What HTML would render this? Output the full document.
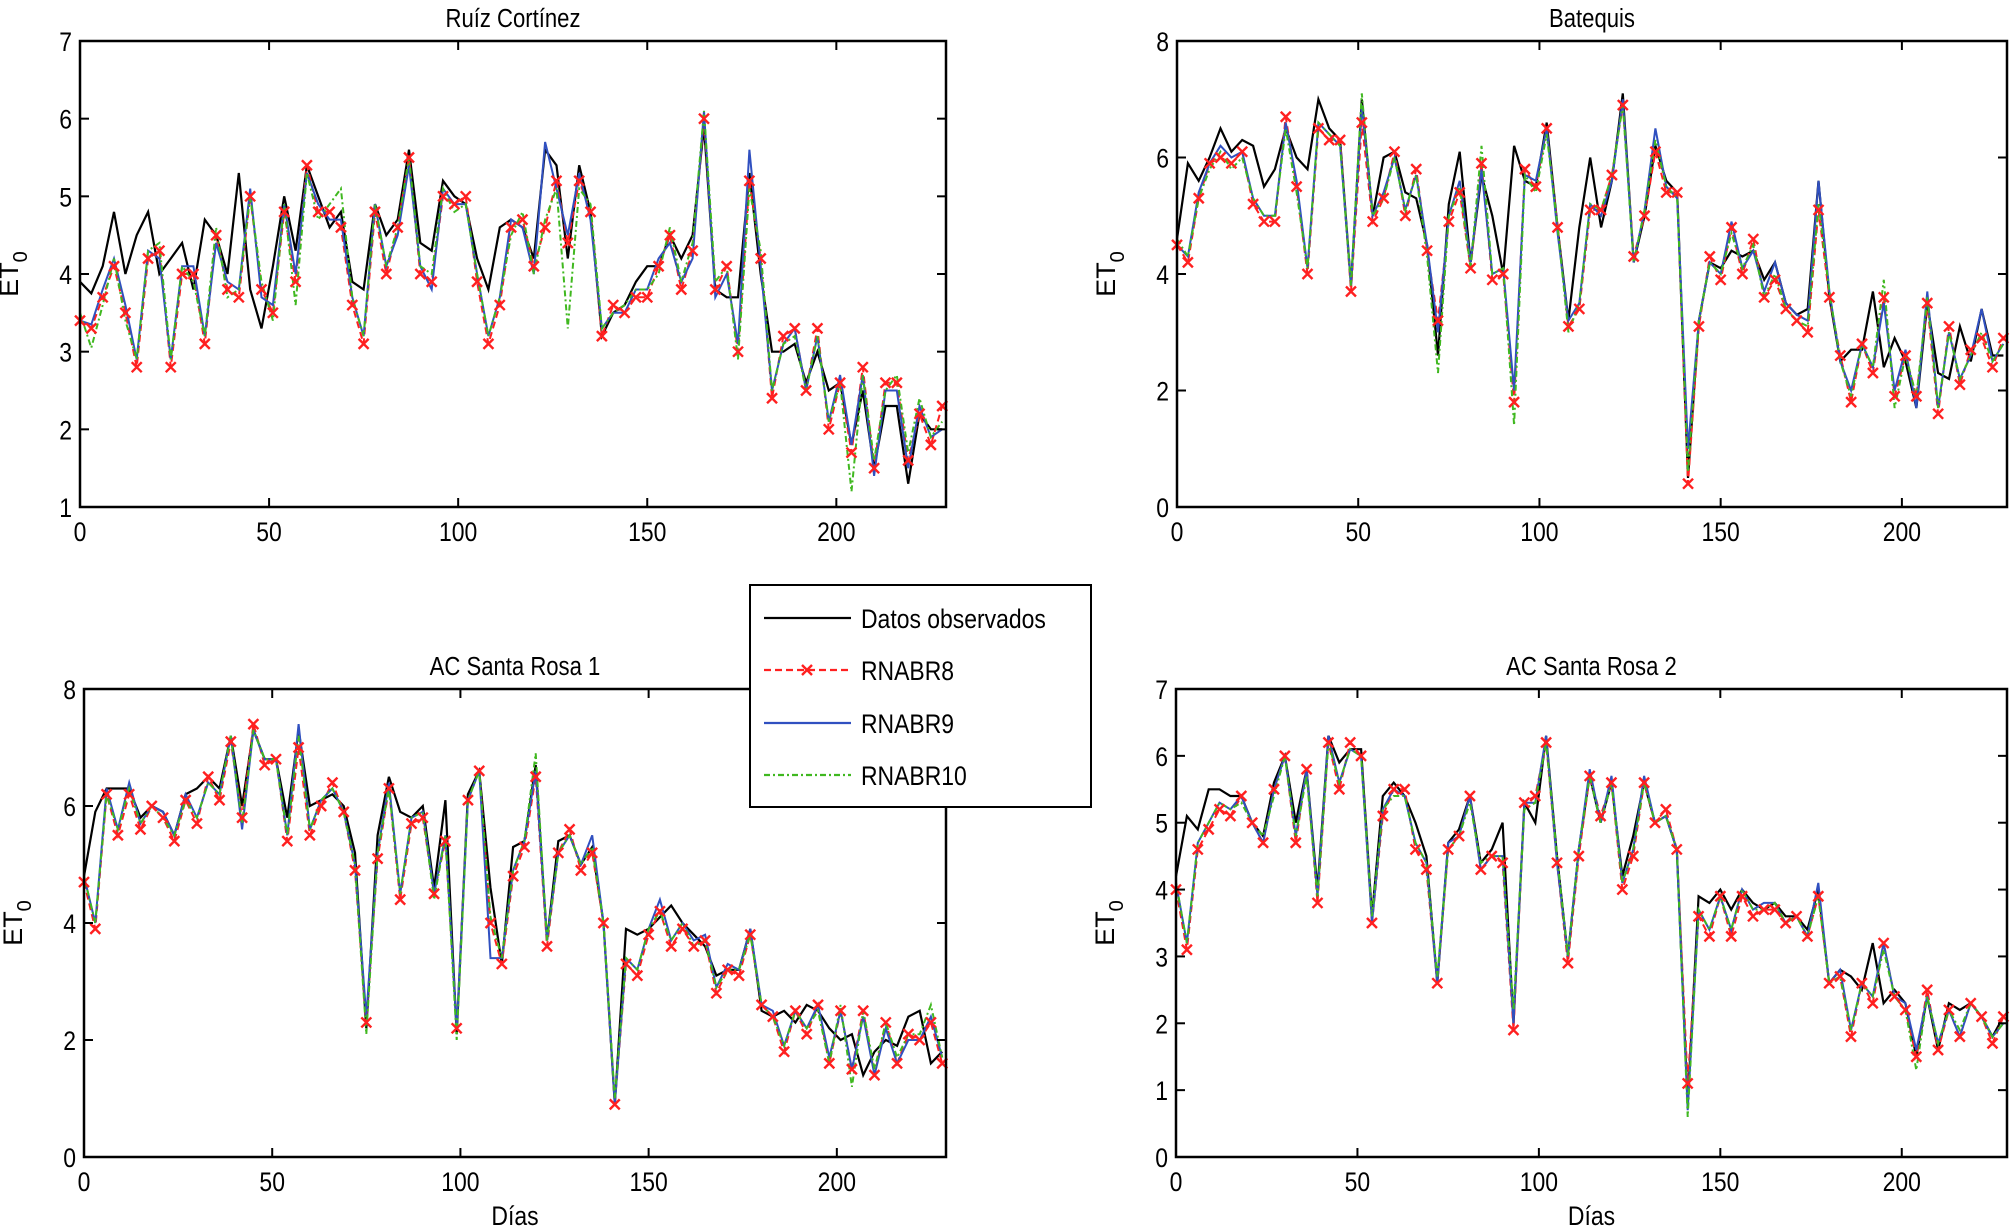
<!DOCTYPE html>
<html><head><meta charset="utf-8">
<style>
html,body{margin:0;padding:0;background:#fff;}
svg{display:block;font-family:"Liberation Sans",Arial,sans-serif;}
</style></head>
<body>
<svg id="fig" width="2012" height="1226" viewBox="0 0 2012 1226" xmlns="http://www.w3.org/2000/svg">
<rect x="0" y="0" width="2012" height="1226" fill="#fff"/>
</svg>
<script>
// ----- shared data -----
const days = [0,3,6,9,12,15,18,21,24,27,30,33,36,39,42,45,48,51,54,57,60,63,66,69,72,75,78,81,84,87,90,93,96,99,102,105,108,111,114,117,120,123,126,129,132,135,138,141,144,147,150,153,156,159,162,165,168,171,174,177,180,183,186,189,192,195,198,201,204,207,210,213,216,219,222,225,228];
const seriesNames = ["Datos observados","RNABR8","RNABR9","RNABR10"];
const xTicks = [0,50,100,150,200];

// Ruiz Cortinez
const rcObs = [3.9,3.75,4.1,4.8,4.0,4.5,4.8,4.0,4.2,4.4,3.8,4.7,4.5,4.0,5.3,3.8,3.3,4.1,5.0,4.3,5.4,5.0,4.6,4.8,3.9,3.8,4.9,4.5,4.7,5.6,4.4,4.3,5.2,5.0,4.9,4.2,3.8,4.6,4.7,4.6,4.2,5.6,5.4,4.2,5.4,4.8,3.2,3.5,3.6,3.9,4.1,4.1,4.5,4.2,4.5,5.9,3.8,3.7,3.7,5.3,4.0,3.0,3.0,3.1,2.6,3.0,2.5,2.6,1.8,2.5,1.5,2.3,2.3,1.3,2.2,2.0,2.0];
const rcR8 = [3.4,3.3,3.7,4.1,3.5,2.8,4.2,4.3,2.8,4.0,4.0,3.1,4.5,3.8,3.7,5.0,3.8,3.5,4.8,3.9,5.4,4.8,4.8,4.6,3.6,3.1,4.8,4.0,4.6,5.5,4.0,3.9,5.0,4.9,5.0,3.9,3.1,3.6,4.6,4.7,4.1,4.6,5.2,4.4,5.2,4.8,3.2,3.6,3.5,3.7,3.7,4.1,4.5,3.8,4.3,6.0,3.8,4.1,3.0,5.2,4.2,2.4,3.2,3.3,2.5,3.3,2.0,2.6,1.7,2.8,1.5,2.6,2.6,1.6,2.2,1.8,2.3];
const rcR9 = [3.4,3.35,3.8,4.2,3.6,2.9,4.3,4.2,2.9,4.1,4.1,3.2,4.4,3.9,3.8,5.1,3.7,3.6,4.9,4.0,5.3,4.9,4.7,4.7,3.7,3.2,4.9,4.1,4.5,5.4,4.1,3.8,5.1,4.9,4.9,4.0,3.2,3.7,4.7,4.6,4.0,5.7,5.1,4.5,5.3,4.7,3.3,3.5,3.5,3.8,3.8,4.2,4.4,3.9,4.2,6.1,3.7,4.0,3.1,5.6,4.1,2.5,3.1,3.3,2.5,3.2,2.1,2.7,1.8,2.7,1.4,2.5,2.5,1.5,2.3,1.9,2.0];
const rcR10 = [3.5,3.05,3.6,4.2,3.4,2.9,4.3,4.4,2.9,4.1,3.9,3.2,4.6,3.7,3.8,5.0,3.9,3.4,4.9,3.6,5.3,4.7,4.9,5.1,3.7,3.2,4.9,4.1,4.6,5.5,4.1,4.0,5.1,4.8,4.9,4.0,3.2,3.7,4.5,4.8,4.0,4.7,5.1,3.3,5.1,4.9,3.3,3.5,3.6,3.8,3.8,4.0,4.6,3.9,4.4,6.1,3.9,4.1,2.9,5.1,4.3,2.5,3.1,3.2,2.5,3.2,2.1,2.6,1.2,2.7,1.6,2.5,2.7,1.7,2.4,1.9,2.1];

// Batequis
const btObs = [4.6,5.9,5.6,6.0,6.5,6.1,6.3,6.2,5.5,5.8,6.5,6.0,5.8,7.0,6.5,6.3,3.8,7.0,5.0,6.0,6.1,5.4,5.3,4.5,2.6,5.2,6.1,4.2,5.7,5.0,4.0,6.2,5.6,5.5,6.6,4.8,3.2,4.8,6.0,4.8,5.6,7.1,4.2,5.0,6.2,5.6,5.4,0.5,3.2,4.2,4.1,4.4,4.3,4.4,3.9,4.2,3.5,3.3,3.4,5.6,3.6,2.5,2.7,2.7,3.7,2.4,2.9,2.5,1.7,3.5,2.3,2.2,3.1,2.5,3.4,2.6,2.6];
const btR8 = [4.5,4.2,5.3,5.9,6.0,5.9,6.1,5.2,4.9,4.9,6.7,5.5,4.0,6.5,6.3,6.3,3.7,6.6,4.9,5.3,6.1,5.0,5.8,4.4,3.2,4.9,5.4,4.1,5.9,3.9,4.0,1.8,5.8,5.5,6.5,4.8,3.1,3.4,5.1,5.1,5.7,6.9,4.3,5.0,6.1,5.4,5.4,0.4,3.1,4.3,3.9,4.8,4.0,4.6,3.6,3.9,3.4,3.2,3.0,5.1,3.6,2.6,1.8,2.8,2.3,3.6,1.9,2.6,1.9,3.5,1.6,3.1,2.1,2.7,2.9,2.4,2.9];
const btR9 = [4.5,4.3,5.4,5.9,6.2,6.0,6.1,5.3,5.0,5.0,6.6,5.6,4.1,6.6,6.4,6.2,3.8,6.9,5.0,5.4,6.0,5.1,5.7,4.5,3.0,5.0,5.6,4.2,5.8,4.0,4.1,2.0,5.7,5.6,6.5,4.7,3.2,3.5,5.2,5.0,5.6,7.0,4.2,5.1,6.5,5.5,5.3,1.0,3.2,4.2,4.0,4.9,4.1,4.4,3.7,4.2,3.5,3.3,3.2,5.6,3.7,2.5,2.0,2.8,2.4,3.5,2.0,2.7,1.7,3.7,1.7,3.0,2.2,2.6,3.4,2.5,2.8];
const btR10 = [4.6,4.3,5.3,5.8,6.1,5.8,6.0,5.3,5.0,5.0,6.5,5.4,4.1,6.6,6.4,6.2,3.8,7.1,5.0,5.3,6.0,5.1,5.7,4.3,2.3,5.0,5.5,4.1,6.2,4.0,4.1,1.4,5.7,5.4,6.4,4.8,3.0,3.5,5.2,5.1,5.7,6.9,4.2,5.1,6.3,5.5,5.3,0.6,3.2,4.2,4.0,4.7,4.1,4.5,3.6,4.0,3.4,3.2,3.1,5.2,3.7,2.5,1.9,2.8,2.4,3.9,1.7,2.6,1.9,3.6,1.7,3.0,2.2,2.6,3.0,2.5,2.8];

// AC Santa Rosa 1
const sr1Obs = [4.8,5.9,6.3,6.3,6.3,5.8,6.0,5.9,5.5,6.2,6.3,6.5,6.3,7.2,6.0,7.3,6.8,6.8,5.8,7.3,6.0,6.1,6.2,6.0,5.2,2.2,5.5,6.5,5.9,5.8,6.0,4.6,6.1,2.1,6.2,6.6,4.6,3.3,5.3,5.4,6.7,3.7,5.4,5.5,5.0,5.3,4.0,0.9,3.9,3.8,3.9,4.1,4.3,4.0,3.8,3.6,3.1,3.2,3.2,3.9,2.5,2.4,2.5,2.3,2.6,2.5,2.2,2.0,2.1,1.4,1.8,2.0,1.9,2.4,2.5,1.6,1.8];
const sr1R8 = [4.7,3.9,6.2,5.5,6.2,5.6,6.0,5.8,5.4,6.1,5.7,6.5,6.1,7.1,5.8,7.4,6.7,6.8,5.4,7.0,5.5,6.0,6.4,5.9,4.9,2.3,5.1,6.3,4.4,5.7,5.8,4.5,5.4,2.2,6.1,6.6,4.0,3.3,4.8,5.3,6.5,3.6,5.2,5.6,4.9,5.2,4.0,0.9,3.3,3.1,3.8,4.2,3.6,3.9,3.6,3.7,2.8,3.2,3.1,3.8,2.6,2.4,1.8,2.5,2.1,2.6,1.6,2.5,1.5,2.5,1.4,2.3,1.6,2.1,2.0,2.3,1.6];
const sr1R9 = [4.8,4.0,6.3,5.6,6.4,5.7,6.0,5.9,5.5,6.2,5.8,6.4,6.2,7.2,5.6,7.3,6.8,6.8,5.5,7.4,5.6,6.1,6.3,5.9,5.0,2.4,5.2,6.4,4.5,5.8,5.9,4.5,5.5,2.2,6.1,6.6,3.4,3.4,4.9,5.4,6.6,3.7,5.2,5.5,5.0,5.5,4.0,0.9,3.4,3.2,3.9,4.4,3.7,4.0,3.7,3.8,2.9,3.3,3.2,3.9,2.6,2.5,1.9,2.5,2.2,2.6,1.7,2.5,1.5,2.4,1.4,2.2,1.6,2.0,2.0,2.4,1.7];
const sr1R10 = [4.8,4.0,6.2,5.6,6.3,5.7,6.0,5.8,5.5,6.1,5.8,6.4,6.2,7.2,5.7,7.3,6.8,6.8,5.5,7.2,5.6,6.1,6.3,5.9,5.0,2.1,5.2,6.3,4.5,5.8,5.9,4.4,5.5,2.0,6.1,6.6,4.1,3.4,4.9,5.4,6.9,3.7,5.2,5.5,5.0,5.3,4.0,1.0,3.4,3.2,3.9,4.2,3.7,4.0,3.6,3.7,2.9,3.2,3.2,3.8,2.6,2.4,1.9,2.5,2.2,2.5,1.6,2.6,1.2,2.5,1.5,2.3,1.7,2.1,2.1,2.6,1.7];

// AC Santa Rosa 2
const sr2Obs = [4.2,5.1,4.9,5.5,5.5,5.4,5.4,5.0,4.8,5.6,6.0,5.0,5.8,4.0,6.3,5.9,6.1,6.1,3.6,5.4,5.6,5.4,5.0,4.5,2.6,4.7,4.9,5.4,4.4,4.6,5.0,2.0,5.3,5.0,6.3,4.5,3.0,4.6,5.7,5.0,5.6,4.2,4.8,5.6,5.0,5.1,4.6,0.8,3.9,3.8,4.0,3.7,4.0,3.8,3.7,3.8,3.6,3.6,3.4,4.0,2.6,2.8,2.7,2.5,3.2,2.3,2.5,2.3,1.5,2.4,1.6,2.3,2.2,2.3,2.1,1.8,2.1];
const sr2R8 = [4.0,3.1,4.6,4.9,5.2,5.1,5.4,5.0,4.7,5.5,6.0,4.7,5.8,3.8,6.2,5.5,6.2,6.0,3.5,5.1,5.5,5.5,4.6,4.3,2.6,4.6,4.8,5.4,4.3,4.5,4.4,1.9,5.3,5.4,6.2,4.4,2.9,4.5,5.7,5.1,5.6,4.0,4.5,5.6,5.0,5.2,4.6,1.1,3.6,3.3,3.9,3.3,3.9,3.6,3.7,3.7,3.5,3.6,3.3,3.9,2.6,2.7,1.8,2.6,2.3,3.2,2.4,2.2,1.5,2.5,1.6,2.2,1.8,2.3,2.1,1.7,2.1];
const sr2R9 = [4.1,3.2,4.7,5.0,5.3,5.2,5.4,5.0,4.7,5.5,6.0,4.8,5.8,3.9,6.3,5.6,6.1,6.0,3.5,5.2,5.5,5.4,4.7,4.4,2.6,4.7,4.8,5.4,4.3,4.5,4.5,2.0,5.3,5.3,6.3,4.4,3.0,4.6,5.8,5.0,5.7,4.1,4.6,5.7,5.0,5.1,4.6,0.7,3.7,3.4,3.9,3.4,4.0,3.7,3.8,3.8,3.5,3.6,3.3,4.1,2.6,2.8,1.9,2.6,2.4,3.2,2.4,2.3,1.6,2.4,1.7,2.2,1.8,2.3,2.1,1.8,2.0];
const sr2R10 = [4.1,3.2,4.7,5.0,5.3,5.2,5.3,5.0,4.8,5.4,6.0,4.8,5.7,3.9,6.2,5.6,6.1,6.0,3.6,5.2,5.4,5.4,4.7,4.4,2.7,4.6,4.8,5.3,4.4,4.5,4.5,2.2,5.2,5.3,6.2,4.5,3.0,4.6,5.7,5.0,5.6,4.1,4.6,5.6,5.0,5.1,4.6,0.6,3.7,3.4,3.9,3.4,4.0,3.7,3.7,3.8,3.5,3.6,3.3,3.9,2.6,2.7,1.9,2.6,2.4,3.1,2.4,2.2,1.3,2.4,1.7,2.2,1.9,2.3,2.1,1.8,2.0];

const svgNS = "http://www.w3.org/2000/svg";
const fig = document.getElementById('fig');
const colors = ["#000000","#ff2020","#3050c0","#40b820"];
const dashes = [null,"7,4",null,"6,3,2,3"];

function mk(tag, attrs, parent){
  const e = document.createElementNS(svgNS, tag);
  for (const k in attrs) e.setAttribute(k, attrs[k]);
  (parent||fig).appendChild(e);
  return e;
}

function drawPanel(cfg){
  const g = mk('g', {});
  
  
  const {x0,x1,y0,y1,ymin,ymax} = cfg;
  const xMax = 229;
  const sx = v => x0 + (v/xMax)*(x1-x0);
  const sy = v => y1 - (v-ymin)/(ymax-ymin)*(y1-y0);
  [0,1,2,3].forEach(si=>{
    const vals = cfg.series[si];
    let d = '';
    vals.forEach((v,i)=>{ d += (i?'L':'M') + sx(days[i]).toFixed(1) + ' ' + sy(v).toFixed(1); });
    const p = mk('path', {d:d, fill:'none', stroke:colors[si], 'stroke-width': si===0?2.2:2}, g);
    if (dashes[si]) p.setAttribute('stroke-dasharray', dashes[si]);
    
    
  });
  const mg = mk('g', {stroke:'#ff2020','stroke-width':2.4}, g);
  
  
  cfg.series[1].forEach((v,i)=>{
    const cx = sx(days[i]), cy = sy(v), r = 5;
    const m = mk('path', {d:`M${cx-r} ${cy-r}L${cx+r} ${cy+r}M${cx-r} ${cy+r}L${cx+r} ${cy-r}`}, mg);
    
    
  });
  const box = mk('rect', {x:x0,y:y0,width:x1-x0,height:y1-y0,fill:'none',stroke:'#000','stroke-width':2.5}, g);
  
  
  xTicks.forEach(t=>{
    const x = sx(t);
    mk('line',{x1:x,y1:y1,x2:x,y2:y1-9,stroke:'#000','stroke-width':2},g);
    mk('line',{x1:x,y1:y0,x2:x,y2:y0+9,stroke:'#000','stroke-width':2},g);
    const tx = mk('text',{x:x,y:y1+34,'font-size':27,'text-anchor':'middle',fill:'#000',transform:`translate(${x},0) scale(0.85,1) translate(${-x},0)`},g);
    tx.textContent = t;
    
    
  });
  cfg.yTicks.forEach(t=>{
    const y = sy(t);
    mk('line',{x1:x0,y1:y,x2:x0+9,y2:y,stroke:'#000','stroke-width':2},g);
    mk('line',{x1:x1,y1:y,x2:x1-9,y2:y,stroke:'#000','stroke-width':2},g);
    const ty = mk('text',{x:x0-8,y:y+10,'font-size':27,'text-anchor':'end',fill:'#000',transform:`translate(${x0-8},0) scale(0.85,1) translate(${-(x0-8)},0)`},g);
    ty.textContent = t;
    
    
  });
  const cxm = (x0+x1)/2;
  const title = mk('text',{x:cxm,y:y0-14,'font-size':26,'text-anchor':'middle',fill:'#000',transform:`translate(${cxm},0) scale(0.85,1) translate(${-cxm},0)`},g);
  title.textContent = cfg.title;
  
  
  const yl = mk('text',{x:0,y:0,'font-size':27,'text-anchor':'middle',fill:'#000',transform:`translate(${x0-62},${(y0+y1)/2}) rotate(-90)`},g);
  yl.innerHTML = 'ET<tspan dy="9" font-size="20">0</tspan>';
  
  
  if (cfg.xlabel){
    const xl = mk('text',{x:cxm,y:y1+68,'font-size':27,'text-anchor':'middle',fill:'#000',transform:`translate(${cxm},0) scale(0.85,1) translate(${-cxm},0)`},g);
    xl.textContent = 'Días';
    
    
  }
}

drawPanel({name:'panel-ruiz-cortinez', title:'Ruíz Cortínez', x0:80,x1:946,y0:41,y1:507,ymin:1,ymax:7,yTicks:[1,2,3,4,5,6,7],series:[rcObs,rcR8,rcR9,rcR10]});
drawPanel({name:'panel-batequis', title:'Batequis', x0:1177,x1:2007,y0:41,y1:507,ymin:0,ymax:8,yTicks:[0,2,4,6,8],series:[btObs,btR8,btR9,btR10]});
drawPanel({name:'panel-ac-santa-rosa-1', title:'AC Santa Rosa 1', x0:84,x1:946,y0:689,y1:1157,ymin:0,ymax:8,yTicks:[0,2,4,6,8],series:[sr1Obs,sr1R8,sr1R9,sr1R10],xlabel:true});
drawPanel({name:'panel-ac-santa-rosa-2', title:'AC Santa Rosa 2', x0:1176,x1:2007,y0:689,y1:1157,ymin:0,ymax:7,yTicks:[0,1,2,3,4,5,6,7],series:[sr2Obs,sr2R8,sr2R9,sr2R10],xlabel:true});

const lg = mk('g',{});


mk('rect',{x:750,y:585,width:341,height:222,fill:'#fff',stroke:'#000','stroke-width':2},lg);
const ly = [618,670,723,775];
seriesNames.forEach((n,i)=>{
  const ln = mk('line',{x1:764,y1:ly[i],x2:851,y2:ly[i],stroke:colors[i],'stroke-width':2.2},lg);
  if (dashes[i]) ln.setAttribute('stroke-dasharray', dashes[i]);
  
  
  if (i===1){
    const m = mk('path',{d:`M802 ${ly[i]-5}L812 ${ly[i]+5}M802 ${ly[i]+5}L812 ${ly[i]-5}`,stroke:'#ff2020','stroke-width':2.4},lg);
    
    
  }
  const t = mk('text',{x:861,y:ly[i]+10,'font-size':27,fill:'#000',transform:`translate(861,0) scale(0.85,1) translate(-861,0)`},lg);
  t.textContent = n;
  
  
});
</script>
</body></html>
